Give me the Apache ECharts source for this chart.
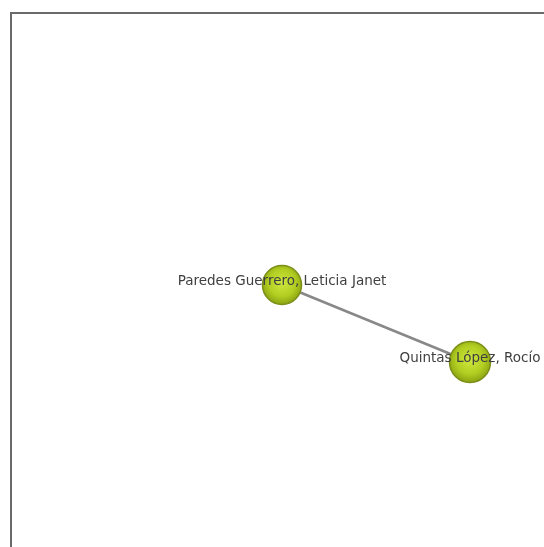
<!DOCTYPE html>
<html>
<head>
<meta charset="utf-8">
<script src="https://cdn.jsdelivr.net/npm/echarts@6/dist/echarts.min.js"></script>
<style>
  html, body { margin: 0; padding: 0; background: #fff; }
  #chart { width: 544px; height: 547px; }
</style>
</head>
<body>
<div id="chart"></div>
<script>
// co-authorship network: two people, one link
const names = ["Paredes Guerrero, Leticia Janet", "Quintas López, Rocío"];
const nodeX = [282, 470];
const nodeY = [285, 362];
const nodeSize = [39, 41];
const links = [[0, 1]];

const chart = echarts.init(document.getElementById("chart"));

const nodes = names.map((n, i) => ({
    name: n,
    value: [nodeX[i], nodeY[i]],
    symbolSize: nodeSize[i]
}));

chart.setOption({
    backgroundColor: "#fff",
    animation: false,
    grid: { left: 0, right: 0, top: 0, bottom: 0 },
    xAxis: { type: "value", min: 0, max: 544, show: false },
    yAxis: { type: "value", min: 0, max: 547, inverse: true, show: false },
    graphic: [{
        type: "polyline",
        shape: { points: [[11, 547], [11, 13], [544, 13]] },
        style: { stroke: "#6a6a6a", lineWidth: 2, fill: null },
        silent: true
    }],
    series: [{
        type: "graph",
        coordinateSystem: "cartesian2d",
        layout: "none",
        symbol: "circle",
        data: nodes,
        links: links.map(l => ({ source: l[0], target: l[1] })),
        itemStyle: {
            color: {
                type: "radial", x: 0.5, y: 0.45, r: 0.55,
                colorStops: [
                    { offset: 0, color: "#d0e840" },
                    { offset: 0.6, color: "#b2ce22" },
                    { offset: 1, color: "#86a00e" }
                ]
            },
            borderColor: "#7d8e18",
            borderWidth: 1.5
        },
        lineStyle: { color: "#888", width: 2.5, opacity: 1 },
        label: {
            show: true,
            position: "inside",
            offset: [0, -4],
            color: "#404040",
            fontFamily: "DejaVu Sans",
            fontSize: 13.5
        },
        z: 2
    }]
});
</script>
</body>
</html>
